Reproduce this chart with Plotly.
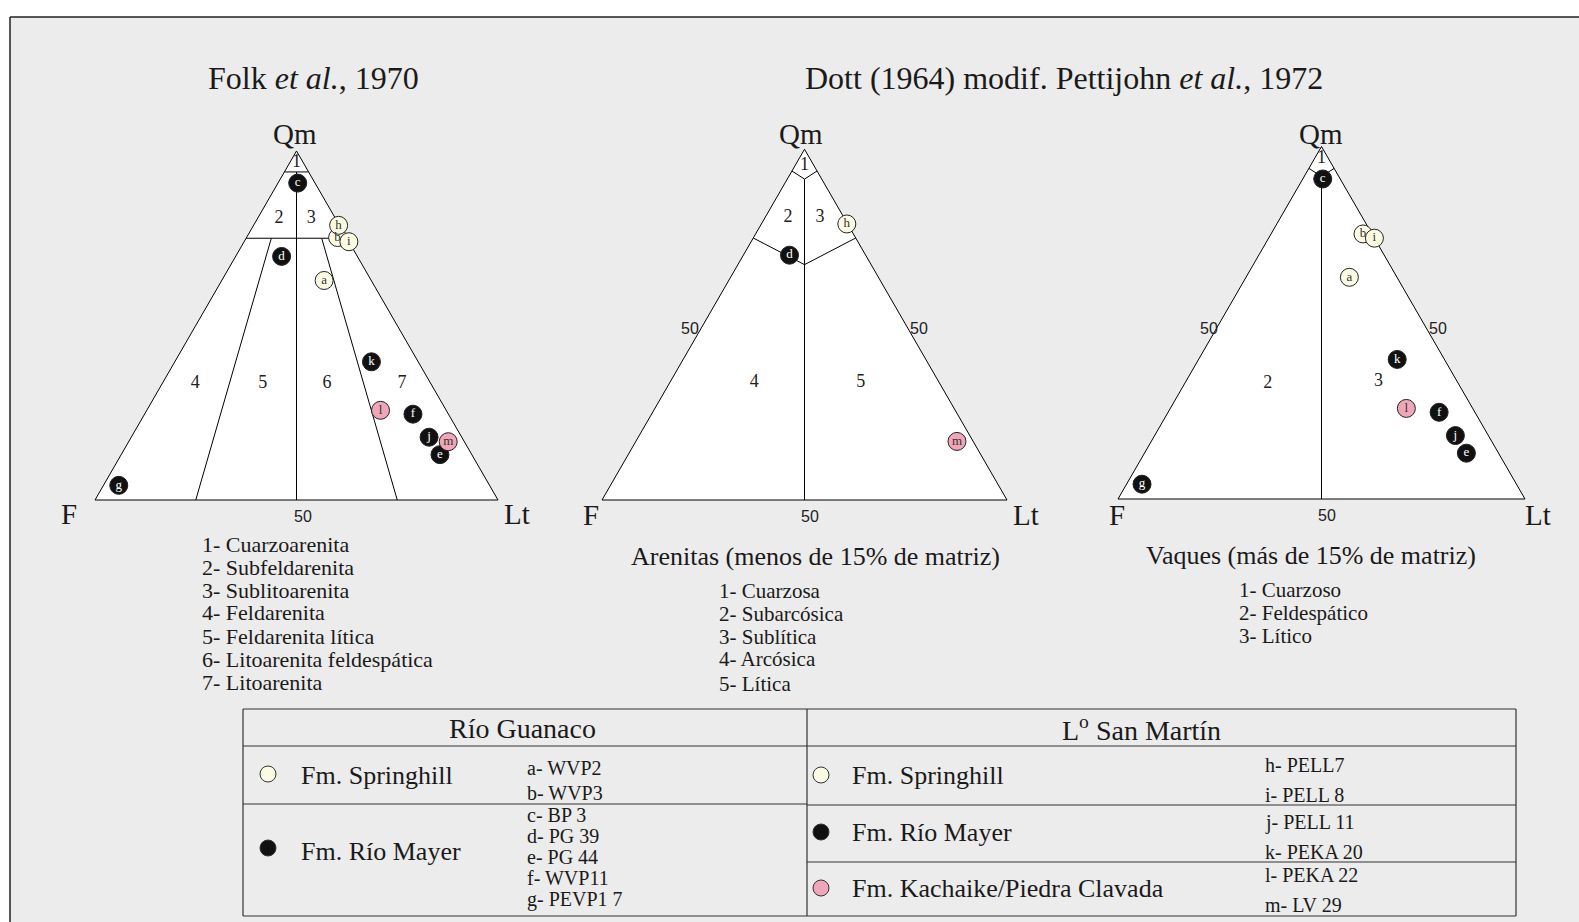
import math
import plotly.graph_objects as go

W, H = 1579, 922
SERIF = "Liberation Serif, Times New Roman, serif"
SANS = "Liberation Sans Narrow, Liberation Sans, Arial, sans-serif"

# ---- Sample compositions (Qm, F, Lt in %) ----
sample_ids = ["a", "b", "c", "d", "e", "f", "g", "h", "i", "j", "k", "l", "m"]
qm = [62.9, 75.2, 90.8, 69.8, 13.0, 24.6, 4.2, 78.7, 74.0, 18.0, 39.6, 25.7, 16.7]
fel = [11.7, 2.2, 4.3, 18.8, 7.9, 8.8, 92.0, 0.2, 0.0, 8.1, 11.6, 16.3, 4.0]
lt = [25.4, 22.6, 4.9, 11.4, 79.1, 66.6, 3.8, 21.1, 26.0, 73.9, 48.8, 58.0, 79.3]
unit = ["Springhill", "Springhill", "Río Mayer", "Río Mayer", "Río Mayer",
        "Río Mayer", "Río Mayer", "Springhill", "Springhill", "Río Mayer",
        "Río Mayer", "Kachaike", "Kachaike"]

# samples plotted in each diagram
folk_samples = sample_ids
arenita_samples = ["d", "h", "m"]
vaque_samples = ["a", "b", "c", "e", "f", "g", "i", "j", "k", "l"]

unit_fill = {"Springhill": "#fbfbe4", "Río Mayer": "#111111", "Kachaike": "#eea6b8"}
unit_text = {"Springhill": "#333333", "Río Mayer": "#ffffff", "Kachaike": "#333333"}

# ---- Classification field boundaries (Qm, F, Lt) ----
folk_bounds = [
    [(94, 6, 0), (94, 0, 6)],
    [(75, 25, 0), (75, 0, 25)],
    [(94, 3, 3), (0, 50, 50)],
    [(75, 18.75, 6.25), (0, 75, 25)],
    [(75, 6.25, 18.75), (0, 25, 75)],
]
dott_common = [
    [(93.8, 6.2, 0), (91.5, 4.25, 4.25), (93.8, 0, 6.2)],
    [(91.5, 4.25, 4.25), (0, 50, 50)],
]
arenita_bounds = dott_common + [
    [(74.7, 25.3, 0), (67.1, 16.45, 16.45), (74.7, 0, 25.3)],
]
vaque_bounds = dott_common

# ---- Field numbers ----
folk_field = ["1", "2", "3", "4", "5", "6", "7"]
folk_field_qm = [96.8, 80.7, 80.7, 33.3, 33.3, 33.3, 33.3]
folk_field_f = [1.6, 14.0, 6.0, 58.5, 41.7, 25.8, 7.2]
folk_field_lt = [1.6, 5.3, 13.3, 8.2, 25.0, 40.9, 59.5]

arenita_field = ["1", "2", "3", "4", "5"]
arenita_field_qm = [95.5, 80.5, 80.5, 33.4, 33.4]
arenita_field_f = [2.25, 13.8, 5.9, 45.7, 19.4]
arenita_field_lt = [2.25, 5.7, 13.6, 20.9, 47.2]

vaque_field = ["1", "2", "3"]
vaque_field_qm = [96.5, 32.8, 33.2]
vaque_field_f = [1.75, 46.8, 19.4]
vaque_field_lt = [1.75, 20.4, 47.4]

# ---- Text ----
folk_title = "Folk <i>et al.</i>, 1970"
dott_title = "Dott (1964) modif. Pettijohn <i>et al.</i>, 1972"
folk_classes = ["1- Cuarzoarenita", "2- Subfeldarenita", "3- Sublitoarenita",
                "4- Feldarenita", "5- Feldarenita lítica",
                "6- Litoarenita feldespática", "7- Litoarenita"]
arenita_head = "Arenitas (menos de 15% de matriz)"
arenita_classes = ["1- Cuarzosa", "2- Subarcósica", "3- Sublítica",
                   "4- Arcósica", "5- Lítica"]
vaque_head = "Vaques (más de 15% de matriz)"
vaque_classes = ["1- Cuarzoso", "2- Feldespático", "3- Lítico"]
tick_label = "50"
sample_names = {"a": "WVP2", "b": "WVP3", "c": "BP 3", "d": "PG 39", "e": "PG 44",
                "f": "WVP11", "g": "PEVP1 7", "h": "PELL7", "i": "PELL 8",
                "j": "PELL 11", "k": "PEKA 20", "l": "PEKA 22", "m": "LV 29"}

fig = go.Figure()


def add_bounds(subplot, segments):
    for seg in segments:
        fig.add_trace(go.Scatterternary(
            a=[p[0] for p in seg], b=[p[1] for p in seg], c=[p[2] for p in seg],
            mode="lines", line=dict(color="black", width=1),
            subplot=subplot, hoverinfo="skip", showlegend=False, cliponaxis=False))


def add_fields(subplot, labels, a, b, c):
    fig.add_trace(go.Scatterternary(
        a=a, b=b, c=c, text=labels, mode="text",
        textfont=dict(family=SERIF, size=18, color="#222222"),
        subplot=subplot, hoverinfo="skip", showlegend=False, cliponaxis=False))


def add_samples(subplot, ids):
    for u in ["Springhill", "Río Mayer", "Kachaike"]:
        idx = [sample_ids.index(s) for s in ids if unit[sample_ids.index(s)] == u]
        if not idx:
            continue
        fig.add_trace(go.Scatterternary(
            a=[qm[i] for i in idx], b=[fel[i] for i in idx], c=[lt[i] for i in idx],
            text=[sample_ids[i] for i in idx], mode="markers+text",
            textposition="middle center",
            marker=dict(size=18, color=unit_fill[u], line=dict(color="#222222", width=1)),
            textfont=dict(family=SERIF, size=13, color=unit_text[u]),
            subplot=subplot, name=u, showlegend=False, cliponaxis=False))


# Folk et al. 1970
add_bounds("ternary", folk_bounds)
add_fields("ternary", folk_field, folk_field_qm, folk_field_f, folk_field_lt)
add_samples("ternary", folk_samples)

# Dott – arenitas
add_bounds("ternary2", arenita_bounds)
add_fields("ternary2", arenita_field, arenita_field_qm, arenita_field_f, arenita_field_lt)
add_samples("ternary2", arenita_samples)

# Dott – vaques
add_bounds("ternary3", vaque_bounds)
add_fields("ternary3", vaque_field, vaque_field_qm, vaque_field_f, vaque_field_lt)
add_samples("ternary3", vaque_samples)


def tern(left, right, base):
    h = (right - left) * math.sqrt(3) / 2
    ax = dict(showgrid=False, showticklabels=False, ticks="", showline=True,
              linecolor="black", linewidth=1, title=dict(text=""), min=0,
              layer="below traces")
    return dict(domain=dict(x=[left / W, right / W], y=[1 - base / H, 1 - (base - h) / H]),
                sum=100, bgcolor="white", aaxis=ax, baxis=ax, caxis=ax)


def px(x):
    return x / W


def py(y):
    return 1 - y / H


annotations = []


def note(text, x, y, size, xanchor="center", color="#1a1a1a", family=SERIF):
    annotations.append(dict(text=text, x=px(x), y=py(y), xref="paper", yref="paper",
                            xanchor=xanchor, yanchor="middle", showarrow=False,
                            font=dict(family=family, size=size, color=color)))


# titles
note(folk_title, 313, 78, 32)
note(dott_title, 1064, 78, 32)

# vertex labels
for (qx, qy), (fx, fy), (lx, ly) in [((295, 134), (69, 514), (517, 514)),
                                     ((801, 134), (591, 515), (1026, 515)),
                                     ((1321, 134), (1117, 515), (1538, 515))]:
    note("Qm", qx, qy, 29)
    note("F", fx, fy, 29)
    note("Lt", lx, ly, 29)

# 50 % marks on the triangle edges
for x, y in [(303, 516), (690, 328), (810, 516), (919, 328),
             (1209, 328), (1327, 515), (1438, 328)]:
    note(tick_label, x, y, 16, color="#222222", family=SANS)

# class lists
for txt, y in zip(folk_classes, [544, 567, 590, 612, 636, 659, 682]):
    note(txt, 200, y, 22, xanchor="left")
note(arenita_head, 815, 556, 26)
for txt, y in zip(arenita_classes, [591, 614, 637, 659, 684]):
    note(txt, 717, y, 21, xanchor="left")
note(vaque_head, 1311, 555, 26)
for txt, y in zip(vaque_classes, [590, 613, 636]):
    note(txt, 1237, y, 21, xanchor="left")

# legend table text
note("Río Guanaco", 522, 728, 28)
note("L<sup>o</sup> San Martín", 1141, 728, 28)
note("Fm. Springhill", 299, 775, 26, xanchor="left")
note("Fm. Río Mayer", 299, 851, 26, xanchor="left")
note("Fm. Springhill", 850, 775, 26, xanchor="left")
note("Fm. Río Mayer", 850, 832, 26, xanchor="left")
note("Fm. Kachaike/Piedra Clavada", 850, 888, 26, xanchor="left")
for s, y in zip(["a", "b", "c", "d", "e", "f", "g"], [768, 793, 815, 836, 857, 878, 899]):
    note(f"{s}- {sample_names[s]}", 525, y, 20, xanchor="left")
for s, y in zip(["h", "i", "j", "k", "l", "m"], [765, 795, 822, 852, 875, 905]):
    note(f"{s}- {sample_names[s]}", 1263, y, 20, xanchor="left")

shapes = []
# panel background and frame
shapes.append(dict(type="rect", xref="paper", yref="paper", x0=px(10), x1=px(1600),
                   y0=py(17), y1=py(940), fillcolor="#ececec", line=dict(width=0),
                   layer="below"))
shapes.append(dict(type="line", xref="paper", yref="paper", x0=px(10), x1=px(1579),
                   y0=py(17), y1=py(17), line=dict(color="#222222", width=1.5), layer="below"))
shapes.append(dict(type="line", xref="paper", yref="paper", x0=px(10), x1=px(10),
                   y0=py(17), y1=py(922), line=dict(color="#222222", width=1.5), layer="below"))


def hline(x0, x1, y):
    shapes.append(dict(type="line", xref="paper", yref="paper", x0=px(x0), x1=px(x1),
                       y0=py(y), y1=py(y), line=dict(color="#333333", width=1.2)))


def vline(x, y0, y1):
    shapes.append(dict(type="line", xref="paper", yref="paper", x0=px(x), x1=px(x),
                       y0=py(y0), y1=py(y1), line=dict(color="#333333", width=1.2)))


# legend table grid
hline(243, 1516, 709)
hline(243, 1516, 916)
vline(243, 709, 916)
vline(1516, 709, 916)
hline(243, 1516, 746)
vline(807, 709, 916)
hline(243, 807, 804)
hline(807, 1516, 805)
hline(807, 1516, 862)

# legend symbols
for u, x, y in [("Springhill", 268, 774), ("Río Mayer", 268, 848),
                ("Springhill", 821, 775), ("Río Mayer", 821, 832),
                ("Kachaike", 821, 888)]:
    shapes.append(dict(type="circle", xref="paper", yref="paper",
                       xsizemode="pixel", ysizemode="pixel",
                       xanchor=px(x), yanchor=py(y), x0=-8, x1=8, y0=-8, y1=8,
                       fillcolor=unit_fill[u], line=dict(color="#333333", width=1)))

fig.update_layout(
    width=W, height=H, margin=dict(l=0, r=0, t=0, b=0),
    paper_bgcolor="white", showlegend=False,
    ternary=tern(95, 498, 500),
    ternary2=tern(602, 1007, 500),
    ternary3=tern(1118, 1525, 499),
    annotations=annotations, shapes=shapes,
)

fig.write_html("out.html")
